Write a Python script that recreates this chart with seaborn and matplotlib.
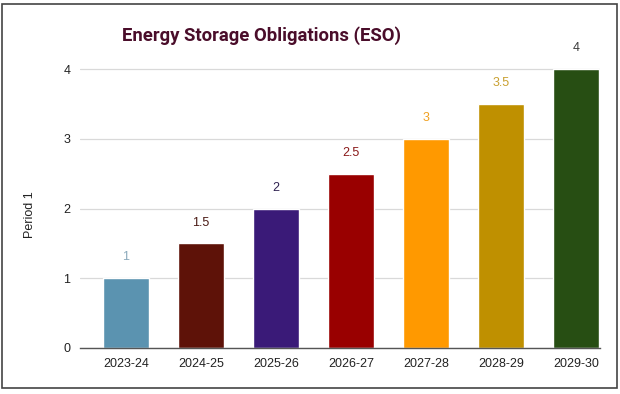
import numpy as np
import matplotlib.pyplot as plt
import matplotlib.patches as mpatches
import pandas as pd
import seaborn as sns

# chart data
years = ['2023-24', '2024-25', '2025-26', '2026-27', '2027-28', '2028-29', '2029-30']
period_1 = [1, 1.5, 2, 2.5, 3, 3.5, 4]
bar_colors = ['#5b93b0', '#5e1208', '#3a1a78', '#990000', '#ff9900', '#bf9000', '#274e13']
label_colors = ['#8aa9bb', '#4a1a14', '#2f2150', '#8a1a1a', '#f0a020', '#c9a030', '#3a3a3a']

sns.set_theme(style='white')
plt.rcParams['font.family'] = ['Liberation Sans', 'DejaVu Sans']

df = pd.DataFrame({'year': years, 'value': period_1})

fig = plt.figure(figsize=(6.2, 3.94), dpi=100)
ax = fig.add_axes([80 / 620, 1 - 348 / 394, 520 / 620, (348 - 55) / 394])

sns.barplot(data=df, x='year', y='value', hue='year', palette=bar_colors,
            width=0.61, legend=False, ax=ax, saturation=1)

for i, v in enumerate(period_1):
    ax.annotate(f'{v:g}', (i, v), xytext=(0, 15), textcoords='offset points',
                ha='center', va='center', fontsize=9, color=label_colors[i])

ax.set_ylim(0, 4 * (348 - 55) / (348 - 69))
ax.set_yticks([0, 1, 2, 3, 4])
ax.set_xlim(-0.613, 6.32)
ax.grid(axis='y', color='#d9d9d9', linewidth=0.9)
ax.set_axisbelow(True)
for s in ['top', 'right', 'left']:
    ax.spines[s].set_visible(False)
ax.spines['bottom'].set_color('#555555')
ax.spines['bottom'].set_linewidth(1)
ax.tick_params(axis='both', length=0, labelsize=9, colors='#222222')
ax.tick_params(axis='y', pad=7)
ax.tick_params(axis='x', pad=7)
ax.set_xlabel('')
ax.set_ylabel('')

fig.text(30 / 620, 1 - 215 / 394, 'Period 1', rotation=90, ha='center', va='center',
         fontsize=9, color='#222222')
fig.text(261 / 620, 1 - 36 / 394, 'Energy Storage Obligations (ESO)', ha='center',
         va='center', fontsize=13.3, fontweight='bold', color='#4a0d2a',
         family=['Roboto', 'DejaVu Sans'])

# outer border
fig.patches.append(mpatches.Rectangle((1.5 / 620, 1 - 388 / 394), 615 / 620, 384 / 394,
                                      transform=fig.transFigure, fill=False,
                                      edgecolor='#444444', linewidth=1.2))

fig.savefig('out.png', dpi=100)
